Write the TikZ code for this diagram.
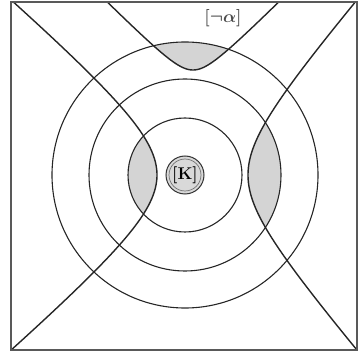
\documentclass[tikz,border=0pt]{standalone}
\usepackage{amsmath}
\begin{document}
\begin{tikzpicture}[x=1pt,y=-1pt,
  curve/.style={line width=1.4pt,draw=black!85},
  ring/.style={line width=1.1pt,draw=black!85},
  lens/.style={fill=black!17},
  framebox/.style={line width=1.5pt,draw=black!65}]
\useasboundingbox (0,0) rectangle (359,358);
\coordinate (C) at (185,175);
% gray lenses
\begin{scope}
  \clip (C) circle [radius=57];
  \fill[lens] plot[domain=-120:120,samples=80,variable=\t]
    ({157-70*(sqrt(1+(\t/60)^2)-1)},{175+\t}) -- (0,300) -- (0,50) -- cycle;
\end{scope}
\begin{scope}
  \clip (C) circle [radius=96];
  \fill[lens] plot[domain=-120:120,samples=80,variable=\t]
    ({248+50*(sqrt(1+(\t/58)^2)-1)},{175+\t}) -- (359,300) -- (359,50) -- cycle;
\end{scope}
\begin{scope}
  \clip (C) circle [radius=133];
  \fill[lens] plot[domain=-100:100,samples=80,variable=\t]
    ({193+\t},{70-20*(sqrt(1+(\t/20)^2)-1)}) -- (300,0) -- (80,0) -- cycle;
\end{scope}
% circles
\draw[ring] (C) circle [radius=57];
\draw[ring] (C) circle [radius=96];
\draw[ring] (C) circle [radius=133];
% curves
\begin{scope}
  \clip (11,2) rectangle (357,350);
  \draw[curve] plot[domain=-185:185,samples=120,variable=\t]
    ({157-70*(sqrt(1+(\t/60)^2)-1)},{175+\t});
  \draw[curve] plot[domain=-185:185,samples=120,variable=\t]
    ({248+50*(sqrt(1+(\t/58)^2)-1)},{175+\t});
  \draw[curve] plot[domain=-95:95,samples=120,variable=\t]
    ({193+\t},{70-20*(sqrt(1+(\t/20)^2)-1)});
\end{scope}
% frame
\draw[framebox] (11,2) rectangle (357,350);
% centre node
\fill[black!15] (C) circle [radius=19];
\draw[black!80,line width=1pt] (C) circle [radius=19];
\draw[black!55,line width=0.7pt] (C) circle [radius=16];
\node[inner sep=0pt,font=\fontsize{17}{19}\selectfont\bfseries] (K) at (C) {[K]};
\node[text=black!70,font=\fontsize{17}{19}\selectfont] (na) at (223,18) {$\boldsymbol{[\neg\alpha]}$};
\end{tikzpicture}
\end{document}
